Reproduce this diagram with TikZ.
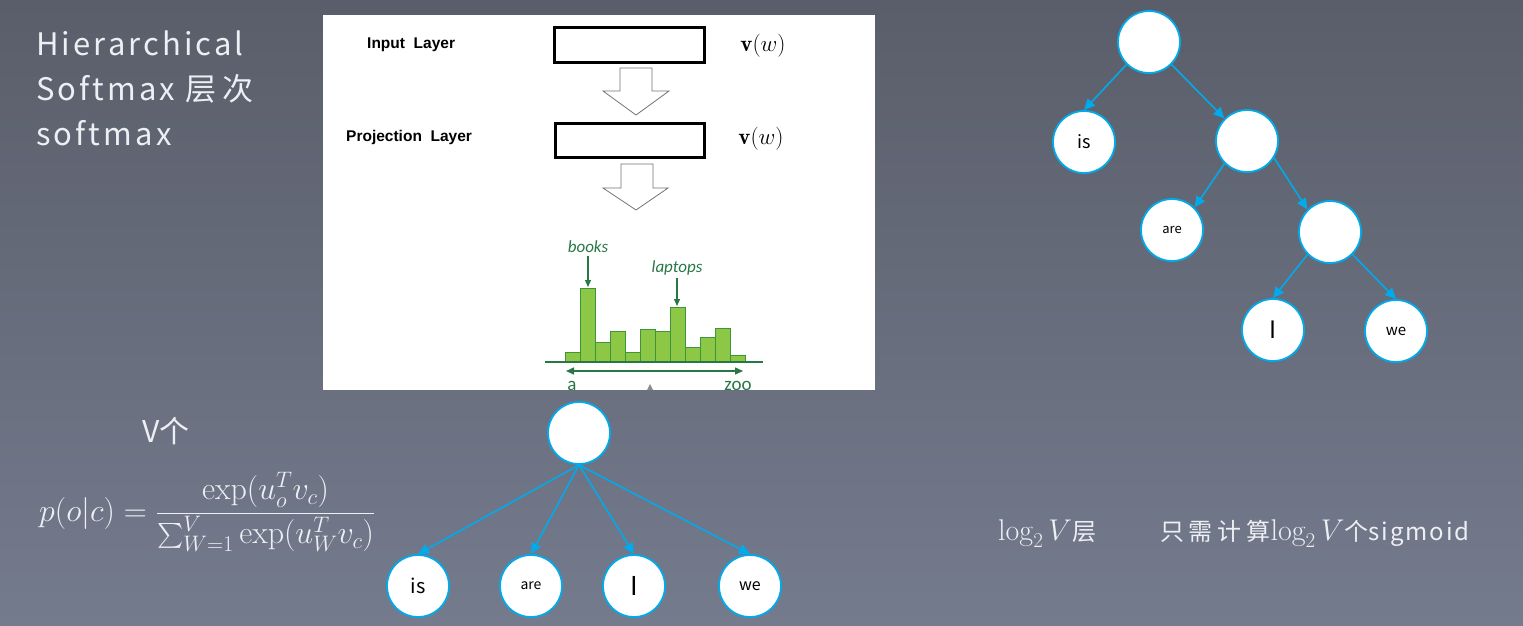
\RequirePackage{fix-cm}
\documentclass[tikz,border=0pt]{standalone}
\usepackage{fontspec}
\usepackage{amsmath}
\usetikzlibrary{arrows.meta}
\newfontfamily\cjk[LetterSpace=10]{Noto Sans CJK SC}
\newfontfamily\cjkw[LetterSpace=20]{Noto Sans CJK SC}
\newfontfamily\cjks[LetterSpace=8]{Noto Sans CJK SC}
\newfontfamily\cjkn{Noto Sans CJK SC}
\newfontfamily\lsans{Liberation Sans}
\newfontfamily\calib{Carlito}
\definecolor{bgtop}{RGB}{90,94,106}
\definecolor{bgbot}{RGB}{116,123,141}
\definecolor{cyanline}{RGB}{0,170,235}
\definecolor{txtlight}{RGB}{236,239,243}
\definecolor{dgreen}{RGB}{40,120,70}
\definecolor{lgreen}{RGB}{140,200,70}
\definecolor{bgreen}{RGB}{60,150,60}
\tikzset{
  tn/.style={circle, draw=cyanline, line width=1.8pt, fill=white, minimum size=62pt,
    inner sep=0pt, text=black, font=\cjkn\fontsize{17}{20}\selectfont},
  ta/.style={draw=cyanline, line width=1.6pt, -{Triangle[length=11pt,width=10pt]}},
  layerbox/.style={draw=black, line width=3pt, fill=white, inner sep=0pt},
  blockarrow/.style={draw=black!55, line width=0.8pt, fill=white},
  layerlabel/.style={anchor=west, inner sep=0pt, font=\lsans\bfseries\fontsize{15.5}{18}\selectfont},
  vwlabel/.style={inner sep=0pt, font=\fontsize{23}{26}\selectfont},
  bar/.style={draw=bgreen, fill=lgreen, line width=0.8pt},
  gtext/.style={inner sep=0pt, text=dgreen, font=\calib\fontsize{19}{22}\selectfont},
  gitext/.style={gtext, font=\calib\itshape\fontsize{17}{20}\selectfont},
  garrow/.style={draw=dgreen, line width=1.2pt, -{Triangle[length=7pt,width=6pt]}},
  lighttext/.style={inner sep=0pt, text=txtlight, anchor=base west},
}
\newcommand{\bigmath}[1]{{\fontsize{30}{34}\selectfont$#1$}}
\begin{document}
\begin{tikzpicture}[x=1pt,y=-1pt]
\shade[top color=bgtop, bottom color=bgbot] (0,0) rectangle (1523,625);
\useasboundingbox (0,0) rectangle (1523,625);

% title
\node[lighttext, font=\cjk\fontsize{31}{36}\selectfont] (t1) at (36,55) {Hierarchical};
\node[lighttext, font=\cjk\fontsize{31}{36}\selectfont] (t2) at (36,100) {Softmax {\cjkw 层次}};
\node[lighttext, font=\cjk\fontsize{31}{36}\selectfont] (t3) at (36,145) {softmax};

% embedded figure
\fill[white] (323,15) rectangle (875,390);
\node[layerlabel] (inl) at (367,45) {Input\ \ Layer};
\node[layerlabel] (prl) at (346,137) {Projection\ \ Layer};
\node[layerbox, minimum width=150pt, minimum height=34.5pt] (box1) at (629.5,45) {};
\node[layerbox, minimum width=149pt, minimum height=34pt] (box2) at (629.5,140.5) {};
\node[vwlabel] (vw1) at (763,46) {$\mathbf{v}(w)$};
\node[vwlabel] (vw2) at (761,139) {$\mathbf{v}(w)$};
\draw[blockarrow] (620,68)--(652,68)--(652,91)--(669,91)--(636,115)--(603,91)--(620,91)--cycle;
\draw[blockarrow] (621,164)--(653,164)--(653,188)--(668,188)--(636,210)--(603,188)--(621,188)--cycle;

% histogram
\foreach \h [count=\i] in {352,288,342,331,352,329,331,307,347,337,328,355}
  \draw[bar] ({550.7+15*\i},362) rectangle ({565.7+15*\i},\h);
\draw[dgreen, line width=2pt] (545,362)--(763,362);
\draw[dgreen, line width=1.5pt, {Triangle[length=8pt,width=7pt]}-{Triangle[length=8pt,width=7pt]}] (566,371)--(743,371);
\coordinate (bktop) at (588,287);
\coordinate (lptop) at (677,306);
\node[gitext] (bk) at (588,247) {books};
\node[gitext] (lp) at (677,268) {laptops};
\draw[garrow] (bk.south) ++(0,3) -- (bktop);
\draw[garrow] (lp.south) ++(0,3) -- (lptop);
\begin{scope}
\clip (323,15) rectangle (875,390);
\node[gtext, anchor=base] (ta) at (572,390) {a};
\node[gtext, anchor=base] (tz) at (738,390) {zoo};
\fill[black!45] (647,390)--(650,384)--(653,390)--cycle;
\end{scope}

% V and formula
\node[lighttext, font=\cjkn\fontsize{30}{34}\selectfont] (vg) at (142,442) {V个};
\node[lighttext, font=\fontsize{32}{37}\selectfont] (fm) at (39,521)
  {$\displaystyle p(o|c)=\frac{\exp(u_o^T v_c)}{\sum_{W=1}^{V}\exp(u_W^T v_c)}$};

% flat tree
\node[tn] (f0) at (579,433) {};
\node[tn, font=\cjkn\fontsize{20}{24}\selectfont] (fis) at (418,586) {is};
\node[tn, font=\cjkn\fontsize{14}{18}\selectfont] (fare) at (531,586) {are};
\node[tn, font=\cjkn\fontsize{26}{30}\selectfont] (fI) at (634,586) {I};
\node[tn, font=\cjkn\fontsize{16}{20}\selectfont] (fwe) at (750,586) {we};
\draw[ta] (f0.south) -- (fis.north);
\draw[ta] (f0.south) -- (fare.north);
\draw[ta] (f0.south) -- (fI.north);
\draw[ta] (f0.south) -- (fwe.north);

% binary tree
\node[tn] (r0) at (1149,42) {};
\node[tn, font=\cjkn\fontsize{18}{22}\selectfont] (ris) at (1084,142) {is};
\node[tn] (r1) at (1247,141) {};
\node[tn, font=\cjkn\fontsize{13}{16}\selectfont] (rare) at (1172,230) {are};
\node[tn] (r2) at (1330,232) {};
\node[tn, font=\cjkn\fontsize{24}{28}\selectfont] (rI) at (1273,330) {I};
\node[tn, font=\cjkn\fontsize{15}{18}\selectfont] (rwe) at (1396,331) {we};
\draw[ta] (r0.225) -- (ris.north);
\draw[ta] (r0.-45) -- (r1.135);
\draw[ta] (r1.225) -- (rare.45);
\draw[ta] (r1.-32) -- (r2.135);
\draw[ta] (r2.225) -- (rI.north);
\draw[ta] (r2.-45) -- (rwe.north);

% bottom right notes
\node[lighttext, font=\cjkw\fontsize{24}{28}\selectfont] (lg) at (998,540) {\bigmath{\log_2V}层};
\node[lighttext, font=\cjkw\fontsize{24}{28}\selectfont] (sg) at (1160,540)
  {只需计算\bigmath{\log_2V}个{\cjks sigmoid}};
\end{tikzpicture}
\end{document}
